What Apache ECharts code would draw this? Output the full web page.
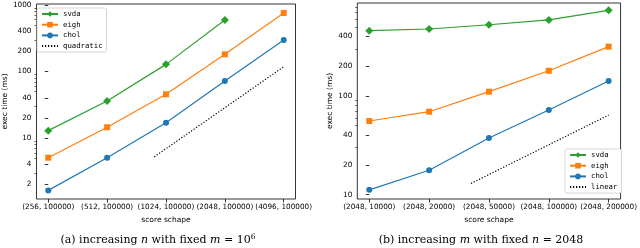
<!DOCTYPE html>
<html>
<head>
<meta charset="utf-8">
<script src="https://cdn.jsdelivr.net/npm/echarts@6/dist/echarts.min.js"></script>
<style>
  html, body { margin: 0; padding: 0; background: #fff; }
  #chart { width: 640px; height: 248px; }
</style>
</head>
<body>
<div id="chart"></div>
<script>
// (a) increasing n, fixed m
const shapesN = ['(256, 100000)', '(512, 100000)', '(1024, 100000)', '(2048, 100000)', '(4096, 100000)'];
const svdaN = [12.9, 36, 128, 594];
const eighN = [5.06, 14.5, 45.4, 181, 759];
const cholN = [1.63, 5.06, 17, 72, 298];
const quadX = [1.8, 4];
const quadY = [5.2, 118];
const yTicksN = [2, 4, 10, 20, 40, 100, 200, 400, 1000];
const yMinorN = [3, 5, 6, 7, 8, 9, 30, 50, 60, 70, 80, 90, 300, 500, 600, 700, 800, 900];

// (b) increasing m, fixed n
const shapesM = ['(2048, 10000)', '(2048, 20000)', '(2048, 50000)', '(2048, 100000)', '(2048, 200000)'];
const svdaM = [459, 477, 527, 589, 738];
const eighM = [55.8, 69.3, 110.6, 180, 316];
const cholM = [11.2, 17.7, 37.5, 72, 142];
const linX = [1.7, 4];
const linY = [13, 64];
const yTicksM = [10, 20, 40, 100, 200, 400];
const yMinorM = [30, 50, 60, 70, 80, 90, 300, 500, 600, 700, 800];

const xIdx = [0, 1, 2, 3, 4];
const GREEN = '#2ca02c', ORANGE = '#ff7f0e', BLUE = '#1f77b4';
const FONT = 'DejaVu Sans';

function pts(xs, ys) {
	return ys.map((v, i) => [xs[i], v]);
}

function xAxis(grid, cats) {
	return {
		type: 'value', gridIndex: grid, min: -0.2, max: 4.2,
		name: 'score schape', nameLocation: 'middle', nameGap: 14,
		nameTextStyle: { fontFamily: FONT, fontSize: 7.5, color: '#000' },
		axisLine: { show: false },
		axisTick: { customValues: xIdx, length: 3.5, lineStyle: { color: '#000', width: 0.8 } },
		axisLabel: {
			customValues: xIdx, margin: 5, fontFamily: FONT, fontSize: 7.3, color: '#000',
			formatter: v => cats[Math.round(v)]
		},
		splitLine: { show: false }
	};
}

function yAxis(grid, min, max, ticks, gap) {
	return {
		type: 'log', gridIndex: grid, min: min, max: max,
		name: 'exec time (ms)', nameLocation: 'middle', nameGap: gap,
		nameTextStyle: { fontFamily: FONT, fontSize: 7.5, color: '#000' },
		axisLine: { show: false },
		axisTick: { customValues: ticks, length: 3.5, lineStyle: { color: '#000', width: 0.8 } },
		axisLabel: {
			customValues: ticks, margin: 5, fontFamily: FONT, fontSize: 7.3, color: '#000',
			formatter: v => String(Math.round(v))
		},
		splitLine: { show: false }
	};
}

function minorAxis(grid, min, max, ticks) {
	return {
		type: 'log', gridIndex: grid, min: min, max: max, position: 'left',
		axisLine: { show: false },
		axisTick: { customValues: ticks, length: 2, lineStyle: { color: '#000', width: 0.6 } },
		axisLabel: { show: false },
		splitLine: { show: false }
	};
}

function line(name, data, color, symbol, size, xi, yi) {
	return {
		name: name, type: 'line', xAxisIndex: xi, yAxisIndex: yi, data: data,
		symbol: symbol, symbolSize: size,
		lineStyle: { color: color, width: 1.2 },
		itemStyle: { color: color },
		animation: false
	};
}

function dotted(name, data, xi, yi) {
	return {
		name: name, type: 'line', xAxisIndex: xi, yAxisIndex: yi, data: data,
		showSymbol: false, symbol: 'none',
		lineStyle: { color: '#000', width: 1.2, type: [1.2, 1.8] },
		itemStyle: { color: 'rgba(0,0,0,0)' },
		animation: false
	};
}

function legend(names, left, top) {
	return {
		orient: 'vertical', left: left, top: top, data: names,
		itemWidth: 16, itemHeight: 7, itemGap: 3.7,
		padding: [2.5, 4, 2.5, 4],
		backgroundColor: '#fff', borderColor: '#ccc', borderWidth: 0.8, borderRadius: 2,
		textStyle: { fontFamily: 'DejaVu Sans Mono', fontSize: 7.3, color: '#000' }
	};
}

const captionRich = {
	r: { fontFamily: 'DejaVu Serif', fontSize: 11, color: '#000' },
	i: { fontFamily: 'DejaVu Serif', fontStyle: 'italic', fontSize: 11, color: '#000' },
	s: { fontFamily: 'DejaVu Serif', fontSize: 7.5, color: '#000', verticalAlign: 'top', padding: [0, 0, 6, 0] }
};

var option = {
	animation: false,
	grid: [
		{ left: 33.5, right: 344.5, top: 4, bottom: 49, show: true, borderColor: '#000', borderWidth: 0.8 },
		{ left: 357.3, right: 17.7, top: 3, bottom: 49, show: true, borderColor: '#000', borderWidth: 0.8 }
	],
	xAxis: [xAxis(0, shapesN), xAxis(1, shapesM)],
	yAxis: [
		yAxis(0, 1.21, 1035, yTicksN, 25),
		minorAxis(0, 1.21, 1035, yMinorN),
		yAxis(1, 9.04, 875, yTicksM, 21),
		minorAxis(1, 9.04, 875, yMinorM)
	],
	legend: [
		legend(['svda', 'eigh', 'chol', 'quadratic'], 37, 8),
		legend(['svda', 'eigh', 'chol', 'linear'], 565, 149)
	],
	series: [
		line('svda', pts(xIdx, svdaN), GREEN, 'diamond', 8, 0, 0),
		line('eigh', pts(xIdx, eighN), ORANGE, 'rect', 6, 0, 0),
		line('chol', pts(xIdx, cholN), BLUE, 'circle', 6, 0, 0),
		dotted('quadratic', pts(quadX, quadY), 0, 0),
		line('svda', pts(xIdx, svdaM), GREEN, 'diamond', 8, 1, 2),
		line('eigh', pts(xIdx, eighM), ORANGE, 'rect', 6, 1, 2),
		line('chol', pts(xIdx, cholM), BLUE, 'circle', 6, 1, 2),
		dotted('linear', pts(linX, linY), 1, 2)
	],
	graphic: [
		{
			type: 'text', x: 158, y: 240,
			style: {
				text: '{r|(a) increasing }{i|n}{r| with fixed }{i|m}{r| = 10}{s|6}',
				rich: captionRich, align: 'center', verticalAlign: 'middle'
			}
		},
		{
			type: 'text', x: 481, y: 240,
			style: {
				text: '{r|(b) increasing }{i|m}{r| with fixed }{i|n}{r| = 2048}',
				rich: captionRich, align: 'center', verticalAlign: 'middle'
			}
		}
	]
};

var myChart = echarts.init(document.getElementById('chart'));
myChart.setOption(option);
</script>
</body>
</html>
